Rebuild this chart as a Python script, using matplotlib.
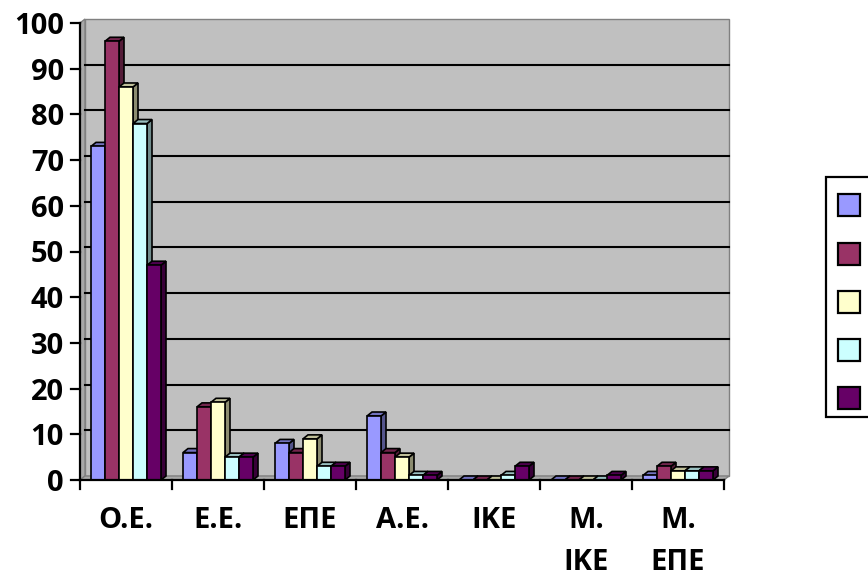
import matplotlib
matplotlib.use('Agg')
import matplotlib.pyplot as plt
from matplotlib.patches import Polygon, Rectangle
import matplotlib.colors as mcolors
import numpy as np

categories = ["Ο.Ε.", "Ε.Ε.", "ΕΠΕ", "Α.Ε.", "ΙΚΕ", "Μ.\nΙΚΕ", "Μ.\nΕΠΕ"]
series1 = [73, 6, 8, 14, 0, 0, 1]
series2 = [96, 16, 6, 6, 0, 0, 3]
series3 = [86, 17, 9, 5, 0, 0, 2]
series4 = [78, 5, 3, 1, 1, 0, 2]
series5 = [47, 5, 3, 1, 3, 1, 2]
series = [series1, series2, series3, series4, series5]
colors = ["#9999FF", "#993366", "#FFFFCC", "#CCFFFF", "#660066"]
yticks = list(range(0, 101, 10))

FONT = ['Open Sans', 'Noto Sans', 'DejaVu Sans']
plt.rcParams['font.family'] = FONT

W, H = 868, 580
fig = plt.figure(figsize=(W / 100, H / 100), dpi=100)
ax_l, ax_r, ax_t, ax_b = 80, 724, 23, 480
ax = fig.add_axes([ax_l / W, 1 - ax_b / H, (ax_r - ax_l) / W, (ax_b - ax_t) / H])
ncat = len(categories)
ax.set_xlim(0, ncat)
ax.set_ylim(0, 100)
ax.axis('off')

pxx = (ax_r - ax_l) / ncat          # pixels per x unit
pxy = (ax_b - ax_t) / 100.0         # pixels per y unit
dx = 5 / pxx
dy = 4 / pxy


def darken(c, f):
    r, g, b = mcolors.to_rgb(c)
    return (r * f, g * f, b * f)


# walls
ax.add_patch(Polygon([(dx, dy), (ncat + dx, dy), (ncat + dx, 100 + dy), (dx, 100 + dy)],
                     closed=True, facecolor='#C0C0C0', edgecolor='#808080', lw=1, clip_on=False, zorder=1))
ax.add_patch(Polygon([(0, 0), (dx, dy), (dx, 100 + dy), (0, 100)],
                     closed=True, facecolor='#A8A8A8', edgecolor='#808080', lw=1, clip_on=False, zorder=1))
ax.add_patch(Polygon([(0, 0), (ncat, 0), (ncat + dx, dy), (dx, dy)],
                     closed=True, facecolor='#A8A8A8', edgecolor='#808080', lw=1, clip_on=False, zorder=1))
for yv in yticks[1:-1]:
    ax.plot([dx, ncat + dx], [yv + dy, yv + dy], color='black', lw=1.5, zorder=2, clip_on=False)

# bars
bw = 14 / pxx
nser = len(series)
for ci in range(ncat):
    start = ci + 0.5 - nser * bw / 2
    for si in range(nser):
        v = series[si][ci]
        x0 = start + si * bw
        x1 = x0 + bw
        c = colors[si]
        z = 3 + ci * 0.1 + si * 0.01
        side = Polygon([(x1, 0), (x1 + dx, dy), (x1 + dx, v + dy), (x1, v)], closed=True,
                       facecolor=darken(c, 0.55), edgecolor='black', lw=1.2, zorder=z, clip_on=False,
                       joinstyle='miter')
        top = Polygon([(x0, v), (x1, v), (x1 + dx, v + dy), (x0 + dx, v + dy)], closed=True,
                      facecolor=darken(c, 0.75), edgecolor='black', lw=1.2, zorder=z, clip_on=False,
                      joinstyle='miter')
        front = Rectangle((x0, 0), bw, v, facecolor=c, edgecolor='black', lw=1.2, zorder=z + 0.001,
                          clip_on=False, joinstyle='miter')
        ax.add_patch(side)
        ax.add_patch(top)
        ax.add_patch(front)

# axes lines
ax.plot([0, 0], [0, 100], color='black', lw=1.6, zorder=10, clip_on=False)
ax.plot([0, ncat], [0, 0], color='black', lw=1.6, zorder=10, clip_on=False)
tl_x = 9 / pxx
tl_y = 9 / pxy
for yv in yticks:
    ax.plot([-tl_x, 0], [yv, yv], color='black', lw=1.6, zorder=10, clip_on=False)
    ax.text(-tl_x - 7 / pxx, yv, str(yv), ha='right', va='center_baseline', fontsize=21,
            fontweight='bold', family=FONT, clip_on=False)
for xv in range(ncat + 1):
    ax.plot([xv, xv], [0, -tl_y], color='black', lw=1.6, zorder=10, clip_on=False)
for ci, lab in enumerate(categories):
    ax.text(ci + 0.5, -26 / pxy, lab, ha='center', va='top', fontsize=21, fontweight='bold',
            family=FONT, linespacing=1.6, clip_on=False)

# legend
def fr(px, py):
    return (px / W, 1 - py / H)

lx0, ly0, lx1, ly1 = 826, 177, 880, 417
fig.add_artist(Rectangle(fr(lx0, ly1), (lx1 - lx0) / W, (ly1 - ly0) / H, transform=fig.transFigure,
                         facecolor='white', edgecolor='black', lw=1.6))
centers = [205, 254, 302, 350, 398]
sq = 22
for c, cy in zip(colors, centers):
    fig.add_artist(Rectangle(fr(838, cy + sq / 2), sq / W, sq / H, transform=fig.transFigure,
                             facecolor=c, edgecolor='black', lw=1.6))

fig.savefig('out.png', dpi=100)
